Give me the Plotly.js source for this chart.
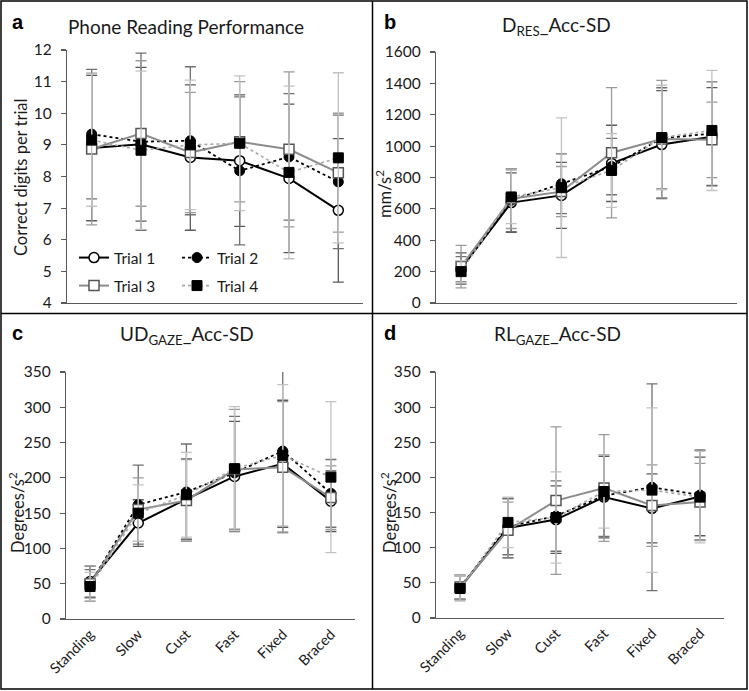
<!DOCTYPE html>
<html>
<head>
<meta charset="utf-8">
<script src="https://cdn.plot.ly/plotly-3.0.1.min.js"></script>
<style>
html,body{margin:0;padding:0;background:#fff;}
#chart{width:749px;height:691px;}
</style>
</head>
<body>
<div id="chart"></div>
<script>
// ---------- data ----------
const categories = ['Standing', 'Slow', 'Cust', 'Fast', 'Fixed', 'Braced'];
const trialNames = ['Trial 1', 'Trial 2', 'Trial 3', 'Trial 4'];

// Panel a: Phone Reading Performance (correct digits per trial)
const a_t1 = [8.90, 9.02, 8.60, 8.50, 7.94, 6.93];
const a_t1_sd = [2.30, 2.43, 2.30, 2.08, 2.35, 2.27];
const a_t2 = [9.34, 9.10, 9.13, 8.18, 8.62, 7.83];
const a_t2_sd = [2.05, 2.80, 2.34, 2.34, 2.00, 2.11];
const a_t3 = [8.87, 9.36, 8.76, 9.10, 8.86, 8.12];
const a_t3_sd = [2.40, 2.30, 1.90, 1.90, 2.45, 1.88];
const a_t4 = [9.15, 8.83, 9.00, 9.05, 8.13, 8.59];
const a_t4_sd = [2.09, 2.50, 2.05, 2.13, 2.73, 2.69];

// Panel b: D_RES Acc-SD (mm/s^2)
const b_t1 = [220, 640, 686, 890, 1010, 1060];
const b_t1_sd = [100, 190, 210, 243, 344, 313];
const b_t2 = [215, 655, 760, 870, 1050, 1080];
const b_t2_sd = [80, 200, 190, 180, 322, 330];
const b_t3 = [232, 665, 710, 958, 1045, 1040];
const b_t3_sd = [135, 190, 160, 415, 374, 241];
const b_t4 = [200, 676, 735, 845, 1055, 1100];
const b_t4_sd = [70, 170, 445, 235, 333, 383];

// Panel c: UD_GAZE Acc-SD (degrees/s^2)
const c_t1 = [53, 136, 170, 202, 220, 167];
const c_t1_sd = [22, 33, 57, 78, 90, 43];
const c_t2 = [50, 162, 180, 207, 238, 178];
const c_t2_sd = [20, 56, 68, 80, 115, 48];
const c_t3 = [50, 155, 168, 212, 215, 172];
const c_t3_sd = [25, 45, 58, 85, 93, 45];
const c_t4 = [46, 150, 176, 213, 232, 201];
const c_t4_sd = [20, 40, 60, 88, 100, 107];

// Panel d: RL_GAZE Acc-SD (degrees/s^2)
const d_t1 = [43, 128, 140, 172, 156, 173];
const d_t1_sd = [17, 42, 48, 58, 49, 56];
const d_t2 = [44, 130, 145, 174, 186, 175];
const d_t2_sd = [17, 40, 50, 58, 147, 64];
const d_t3 = [44, 125, 167, 185, 160, 165];
const d_t3_sd = [17, 40, 105, 76, 58, 55];
const d_t4 = [42, 136, 143, 180, 182, 172];
const d_t4_sd = [18, 36, 65, 52, 117, 65];

// ---------- styles ----------
const W = 749, H = 691;
const px = x => x / W;
const py = y => 1 - y / H;
const FONT = 'Lato, "Open Sans", sans-serif';
const TXT = '#1a1a1a';

const styles = [
  {line: {color: '#000000', width: 2, dash: 'solid'},
   marker: {symbol: 'circle', size: 10, color: '#ffffff', line: {color: '#000000', width: 1.5}},
   err: '#5a5a5a'},
  {line: {color: '#000000', width: 1.8, dash: 'dot'},
   marker: {symbol: 'circle', size: 10, color: '#000000', line: {color: '#000000', width: 1}},
   err: '#707070'},
  {line: {color: '#8c8c8c', width: 2, dash: 'solid'},
   marker: {symbol: 'square', size: 10, color: '#ffffff', line: {color: '#555555', width: 1.5}},
   err: '#9a9a9a'},
  {line: {color: '#a8a8a8', width: 1.6, dash: 'dot'},
   marker: {symbol: 'square', size: 10, color: '#000000', line: {color: '#000000', width: 1}},
   err: '#c2c2c2'}
];

const panels = [
  {ax: '', series: [[a_t1, a_t1_sd], [a_t2, a_t2_sd], [a_t3, a_t3_sd], [a_t4, a_t4_sd]]},
  {ax: '2', series: [[b_t1, b_t1_sd], [b_t2, b_t2_sd], [b_t3, b_t3_sd], [b_t4, b_t4_sd]]},
  {ax: '3', series: [[c_t1, c_t1_sd], [c_t2, c_t2_sd], [c_t3, c_t3_sd], [c_t4, c_t4_sd]]},
  {ax: '4', series: [[d_t1, d_t1_sd], [d_t2, d_t2_sd], [d_t3, d_t3_sd], [d_t4, d_t4_sd]]}
];

const traces = [];
panels.forEach((p, pi) => {
  p.series.forEach((s, ti) => {
    const st = styles[ti];
    traces.push({
      type: 'scatter', mode: 'lines+markers',
      x: categories, y: s[0],
      name: trialNames[ti],
      xaxis: 'x' + p.ax, yaxis: 'y' + p.ax,
      line: st.line, marker: st.marker,
      error_y: {type: 'data', array: s[1], visible: true, color: st.err, thickness: 1.3, width: 5.5},
      showlegend: pi === 0,
      legend: ti < 2 ? 'legend' : 'legend2',
      hoverinfo: 'x+y+name'
    });
  });
});

function yax(domain, range, dtick) {
  return {
    domain: domain, range: range, dtick: dtick, tick0: 0,
    showgrid: false, zeroline: false, showline: true, linecolor: '#595959', linewidth: 1.2,
    ticks: 'outside', ticklen: 5, tickcolor: '#595959', tickwidth: 1.2,
    tickfont: {family: FONT, size: 15.5, color: TXT}, ticklabelstandoff: 6, fixedrange: true
  };
}
function xax(domain, showLabels) {
  return {
    domain: domain, type: 'category', range: [-0.5, 5.5],
    showgrid: false, zeroline: false, showline: true, linecolor: '#595959', linewidth: 1.2,
    ticks: '', showticklabels: showLabels, tickangle: -45,
    tickfont: {family: FONT, size: 14.5, color: TXT}, fixedrange: true
  };
}

const layout = {
  width: W, height: H,
  margin: {l: 0, r: 0, t: 0, b: 0},
  paper_bgcolor: '#ffffff', plot_bgcolor: '#ffffff',
  font: {family: FONT, color: TXT},
  showlegend: true,
  xaxis: Object.assign(xax([px(67), px(363)], false), {anchor: 'y'}),
  yaxis: Object.assign(yax([py(303), py(50)], [4, 12], 1), {anchor: 'x'}),
  xaxis2: Object.assign(xax([px(436), px(737)], false), {anchor: 'y2'}),
  yaxis2: Object.assign(yax([py(303), py(52)], [0, 1600], 200), {anchor: 'x2'}),
  xaxis3: Object.assign(xax([px(66), px(355)], true), {anchor: 'y3'}),
  yaxis3: Object.assign(yax([py(619), py(372)], [0, 350], 50), {anchor: 'x3'}),
  xaxis4: Object.assign(xax([px(436), px(724)], true), {anchor: 'y4'}),
  yaxis4: Object.assign(yax([py(618), py(372)], [0, 350], 50), {anchor: 'x4'}),
  legend: {
    orientation: 'h', x: px(74), y: py(258), xanchor: 'left', yanchor: 'middle',
    entrywidth: 58, entrywidthmode: 'pixels', bgcolor: 'rgba(0,0,0,0)',
    font: {family: FONT, size: 15.5, color: TXT}, traceorder: 'normal'
  },
  legend2: {
    orientation: 'h', x: px(74), y: py(286), xanchor: 'left', yanchor: 'middle',
    entrywidth: 58, entrywidthmode: 'pixels', bgcolor: 'rgba(0,0,0,0)',
    font: {family: FONT, size: 15.5, color: TXT}, traceorder: 'normal'
  },
  shapes: [
    {type: 'rect', xref: 'paper', yref: 'paper', x0: px(1), x1: px(747), y0: py(689), y1: py(1),
     line: {color: '#000', width: 1.5}},
    {type: 'line', xref: 'paper', yref: 'paper', x0: px(372.5), x1: px(372.5), y0: py(689), y1: py(1),
     line: {color: '#000', width: 1.5}},
    {type: 'line', xref: 'paper', yref: 'paper', x0: px(1), x1: px(747), y0: py(313.5), y1: py(313.5),
     line: {color: '#000', width: 1.5}}
  ],
  annotations: [
    // panel letters
    {text: '<b>a</b>', x: px(10), y: py(22), xanchor: 'left', yanchor: 'middle', font: {family: 'Liberation Sans, Arial', size: 20, color: '#000'}},
    {text: '<b>b</b>', x: px(382), y: py(22), xanchor: 'left', yanchor: 'middle', font: {family: 'Liberation Sans, Arial', size: 20, color: '#000'}},
    {text: '<b>c</b>', x: px(10), y: py(333), xanchor: 'left', yanchor: 'middle', font: {family: 'Liberation Sans, Arial', size: 20, color: '#000'}},
    {text: '<b>d</b>', x: px(382), y: py(333), xanchor: 'left', yanchor: 'middle', font: {family: 'Liberation Sans, Arial', size: 20, color: '#000'}},
    // titles
    {text: 'Phone Reading Performance', x: px(186), y: py(26), xanchor: 'center', yanchor: 'middle', font: {family: FONT, size: 19, color: TXT}},
    {text: 'D<sub>RES</sub>_Acc-SD', x: px(556), y: py(26), xanchor: 'center', yanchor: 'middle', font: {family: FONT, size: 19, color: TXT}},
    {text: 'UD<sub>GAZE</sub>_Acc-SD', x: px(187), y: py(335), xanchor: 'center', yanchor: 'middle', font: {family: FONT, size: 19, color: TXT}},
    {text: 'RL<sub>GAZE</sub>_Acc-SD', x: px(557), y: py(335), xanchor: 'center', yanchor: 'middle', font: {family: FONT, size: 19, color: TXT}},
    // y axis titles
    {text: 'Correct digits per trial', x: px(21), y: py(178), textangle: -90, xanchor: 'center', yanchor: 'middle', font: {family: FONT, size: 16.5, color: TXT}},
    {text: 'mm/s<sup>2</sup>', x: px(384), y: py(194), textangle: -90, xanchor: 'center', yanchor: 'middle', font: {family: FONT, size: 16.5, color: TXT}},
    {text: 'Degrees/s<sup>2</sup>', x: px(17), y: py(513), textangle: -90, xanchor: 'center', yanchor: 'middle', font: {family: FONT, size: 16.5, color: TXT}},
    {text: 'Degrees/s<sup>2</sup>', x: px(389), y: py(513), textangle: -90, xanchor: 'center', yanchor: 'middle', font: {family: FONT, size: 16.5, color: TXT}}
  ].map(a => Object.assign({xref: 'paper', yref: 'paper', showarrow: false}, a))
};

Plotly.newPlot('chart', traces, layout, {displayModeBar: false, staticPlot: true});
</script>
</body>
</html>
